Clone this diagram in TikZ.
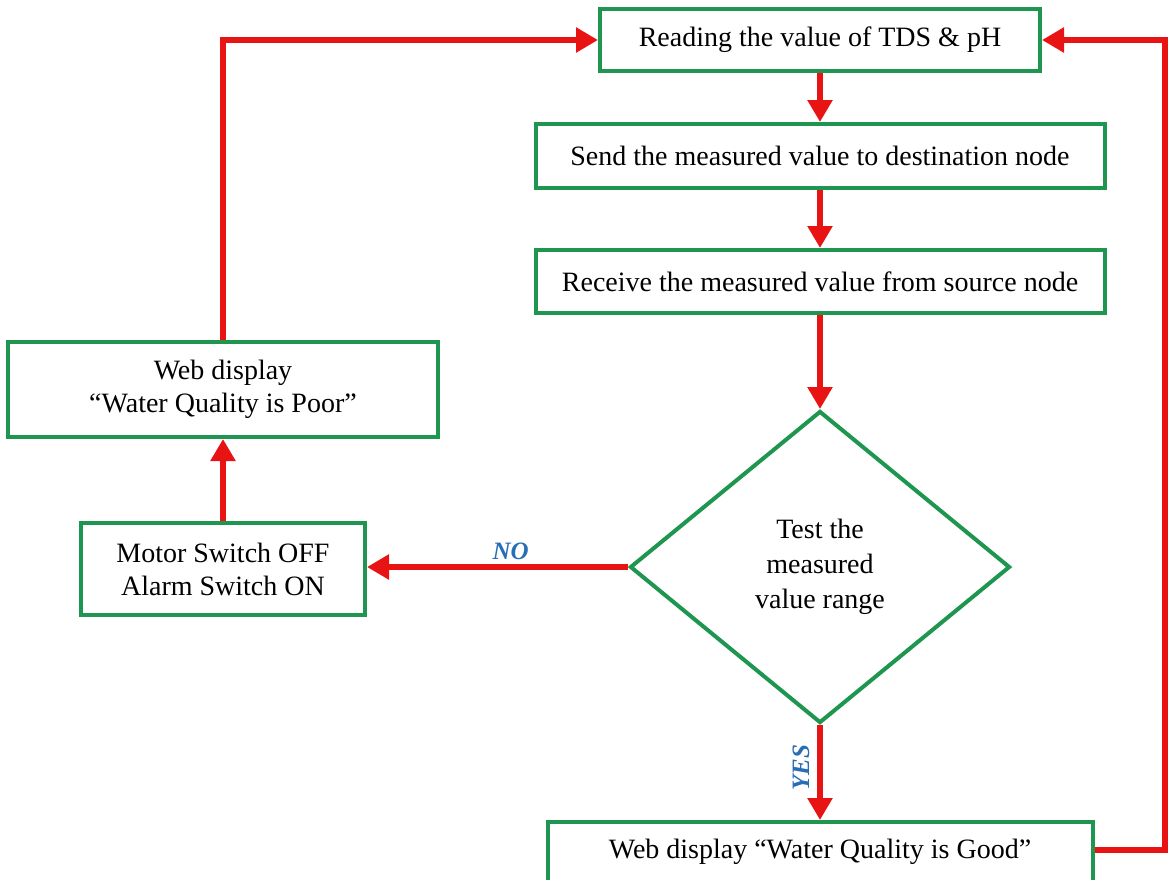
\documentclass[tikz,border=0pt]{standalone}
\usepackage{fontspec}
\setmainfont{Liberation Serif}
\usetikzlibrary{arrows.meta,shapes.geometric}
\definecolor{boxgreen}{RGB}{30,150,80}
\definecolor{arrred}{RGB}{232,20,20}
\definecolor{lblblue}{RGB}{40,110,180}
\begin{document}
\begin{tikzpicture}[x=1pt,y=-1pt,
  box/.style={draw=boxgreen,line width=4pt,rectangle,inner sep=0pt,align=center,
    font=\fontsize{28}{33}\selectfont,fill=white},
  decision/.style={draw=boxgreen,line width=4pt,diamond,inner sep=0pt,align=center,
    font=\fontsize{28}{35}\selectfont,minimum width=380pt,minimum height=312pt},
  flow/.style={draw=arrred,line width=6pt,-{Triangle[length=22pt,width=24pt]}},
  lbl/.style={text=lblblue,font=\fontsize{25}{27}\selectfont\bfseries\itshape}]
\useasboundingbox (0,0) rectangle (1169,879);
\clip (0,0) rectangle (1169,879);
\node[box,minimum width=440pt,minimum height=62pt] (read) at (820,40) {Reading the value of TDS \& pH};
\node[box,minimum width=569pt,minimum height=64pt] (send) at (820,156) {Send the measured value to destination node};
\node[box,minimum width=569pt,minimum height=63pt] (recv) at (820,281.5) {Receive the measured value from source node};
\node[decision] (test) at (820,567) {Test the\\measured\\value range};
\node[box,minimum width=545pt,minimum height=90pt,text depth=36pt] (good) at (820,867) {Web display ``Water Quality is Good''};
\node[box,minimum width=430pt,minimum height=95pt] (poor) at (223,389.5) {Web display\\``Water Quality is Poor''};
\node[box,minimum width=284pt,minimum height=92pt] (motor) at (223,569) {Motor Switch OFF\\Alarm Switch ON};
\coordinate (tl) at (223,40);
\coordinate (rb) at (1165,850);
\coordinate (rt) at (1165,40);
\draw[flow] (read) -- (send);
\draw[flow] (send) -- (recv);
\draw[flow] (recv) -- (test.north);
\draw[flow] (test.west) -- node[lbl,above=1pt,pos=0.45] (no) {NO} (test.west -| motor.east);
\draw[flow] (test.south) -- (good.north);
\node[lbl,rotate=90] (yes) at (801,768) {YES};
\draw[flow] (motor) -- (poor);
\draw[flow] (poor.north) -- (tl) -- (read.west);
\draw[flow] (good.east |- rb) -- (rb) -- (rt) -- (read.east);
\end{tikzpicture}
\end{document}
